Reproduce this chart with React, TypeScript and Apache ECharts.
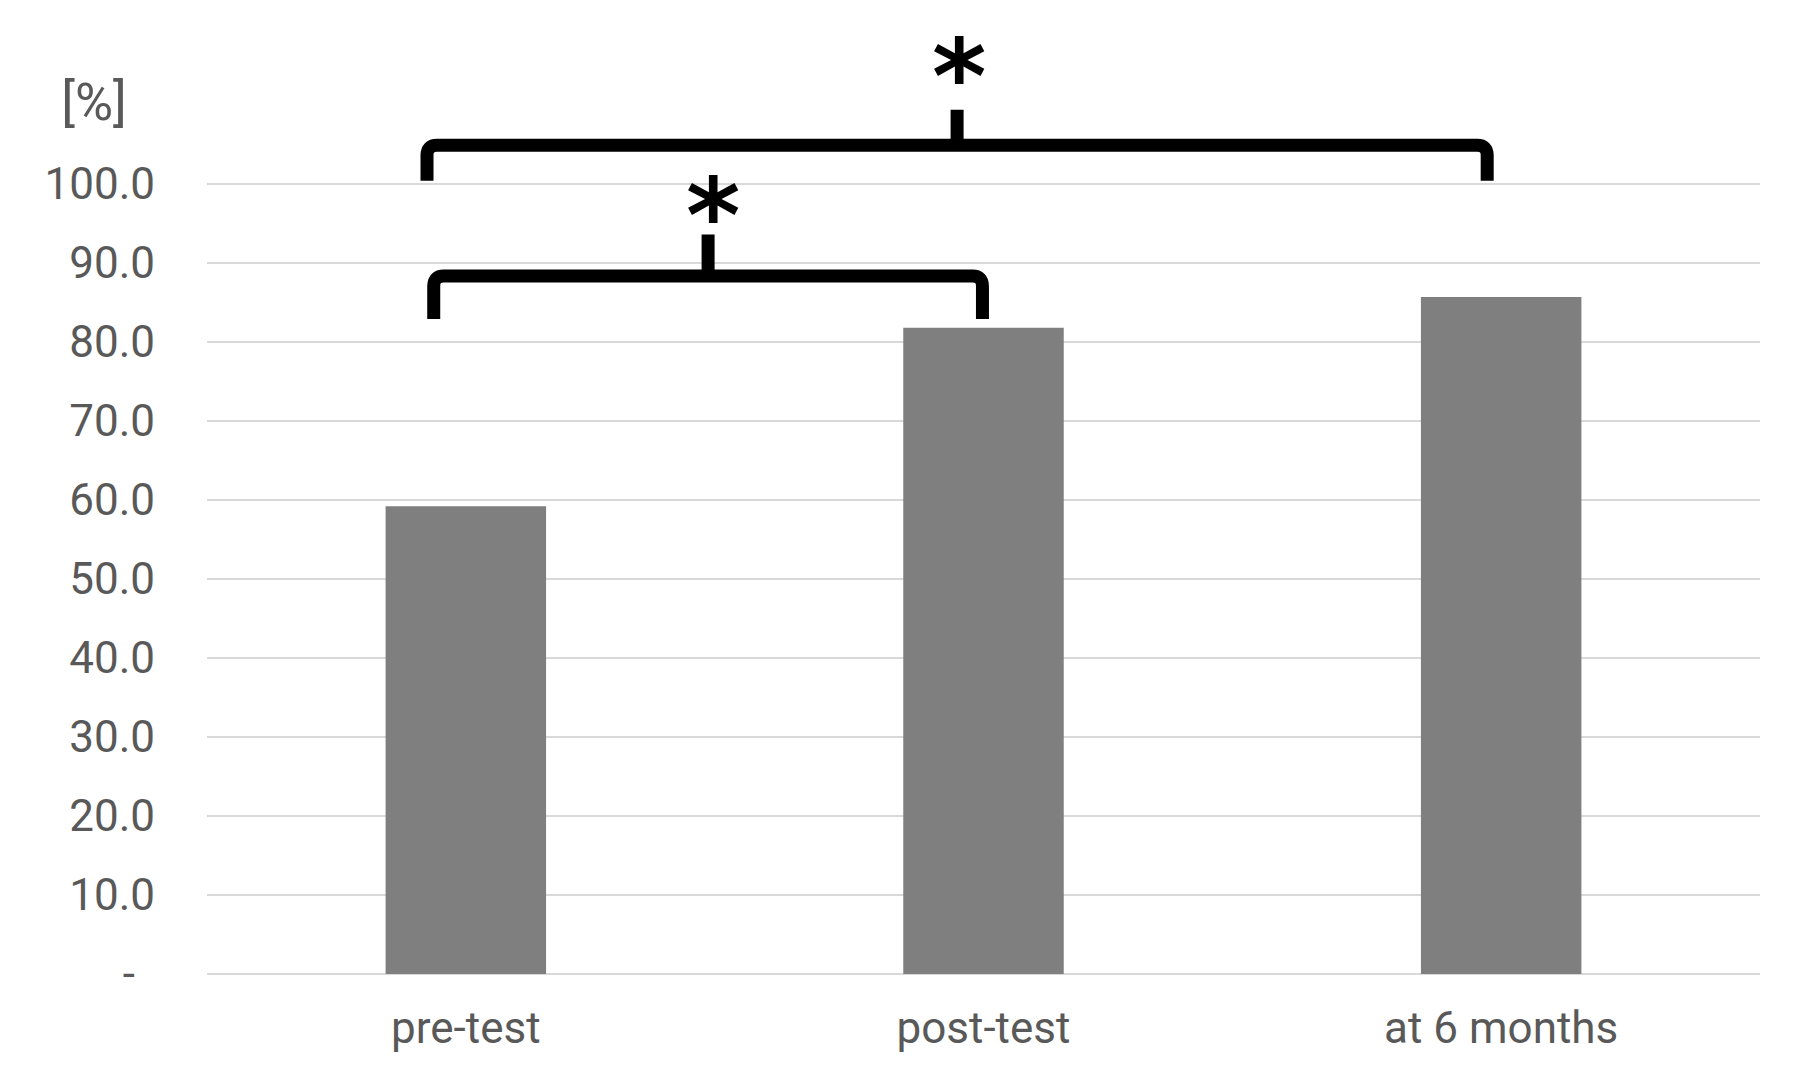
import React, { useEffect, useRef } from "react";
import * as echarts from "echarts";

// ---- data ----
const categories = ["pre-test", "post-test", "at 6 months"];
const values = [59.2, 81.8, 85.7];
const yMin = 0;
const yMax = 100;
const yStep = 10;
const unitLabel = "[%]";
// significance comparisons (category indices) and their marks
const comparisons = [
  { from: 0, to: 2, mark: "*" },
  { from: 0, to: 1, mark: "*" },
];

// ---- annotation layout (offsets in category widths, heights in axis units) ----
const bracketLayout = [
  { fromOff: -0.075, toOff: -0.027, barV: 104.9, endV: 100.4, tickV: 109.4, markV: 113.6, markDx: 2 },
  { fromOff: -0.062, toOff: -0.002, barV: 88.35, endV: 82.9, tickV: 93.6, markV: 96.0, markDx: 5 },
];

const LABEL_COLOR = "#595959";
const FONT = "Roboto";

export default function App() {
  const ref = useRef<HTMLDivElement>(null);

  useEffect(() => {
    if (!ref.current) return;
    const chart = echarts.init(ref.current, null, { renderer: "svg" });
    const option: any = {
      animation: false,
      backgroundColor: "#ffffff",
      grid: { left: 207, right: 40, top: 184, bottom: 100, outerBoundsMode: "none" },
      xAxis: {
        type: "category",
        data: categories,
        axisLine: { show: false },
        axisTick: { show: false },
        axisLabel: { color: LABEL_COLOR, fontFamily: FONT, fontSize: 44, margin: 32 },
      },
      yAxis: {
        type: "value",
        min: yMin,
        max: yMax,
        interval: yStep,
        axisLine: { show: false },
        axisTick: { show: false },
        splitLine: { lineStyle: { color: "#d9d9d9", width: 2 } },
        axisLabel: {
          color: LABEL_COLOR,
          fontFamily: FONT,
          fontSize: 44,
          margin: 52,
          formatter: (v: number) => (v === 0 ? "{dash|-}" : v.toFixed(1)),
          rich: {
            dash: { color: LABEL_COLOR, fontFamily: FONT, fontSize: 44, padding: [0, 20, 0, 0] },
          },
        },
      },
      series: [
        {
          type: "bar",
          data: values,
          barWidth: "31%",
          itemStyle: { color: "#7f7f7f" },
        },
      ],
    };
    chart.setOption(option);

    const px = (cat: number, v: number) =>
      chart.convertToPixel({ xAxisIndex: 0, yAxisIndex: 0 }, [cat, v]) as number[];
    const band = px(1, 0)[0] - px(0, 0)[0];
    const yPx = (v: number) => px(0, v)[1];

    const graphics: any[] = [
      {
        type: "text",
        x: 94,
        y: 102,
        style: {
          text: unitLabel,
          font: `52px ${FONT}`,
          fill: LABEL_COLOR,
          align: "center",
          verticalAlign: "middle",
        },
      },
    ];

    comparisons.forEach((c, i) => {
      const l = bracketLayout[i];
      const x1 = px(c.from, 0)[0] + l.fromOff * band;
      const x2 = px(c.to, 0)[0] + l.toOff * band;
      const xm = (x1 + x2) / 2;
      const yH = yPx(l.barV);
      const yEnd = yPx(l.endV);
      const yTick = yPx(l.tickV);
      const r = 10;
      const d =
        `M${x1} ${yEnd} L${x1} ${yH + r} Q${x1} ${yH} ${x1 + r} ${yH} ` +
        `L${x2 - r} ${yH} Q${x2} ${yH} ${x2} ${yH + r} L${x2} ${yEnd} ` +
        `M${xm} ${yH} L${xm} ${yTick}`;
      const name = `sigBracket${i}`;
      echarts.graphic.registerShape(name, echarts.graphic.extendPath(d, {}) as any);
      graphics.push({
        type: name,
        x: 0,
        y: 0,
        style: { fill: "none", stroke: "#000000", lineWidth: 13, lineCap: "butt", lineJoin: "round" },
      });
      graphics.push({
        type: "text",
        x: xm + l.markDx,
        y: yPx(l.markV),
        style: {
          text: c.mark,
          font: `bold 104px 'DejaVu Sans'`,
          fill: "#000000",
          align: "center",
          verticalAlign: "middle",
        },
      });
    });

    chart.setOption({ graphic: graphics });

    return () => {
      chart.dispose();
    };
  }, []);

  return (
    <div
      ref={ref}
      style={{ position: "absolute", left: 0, top: 0, width: 1800, height: 1074, background: "#fff" }}
    />
  );
}
